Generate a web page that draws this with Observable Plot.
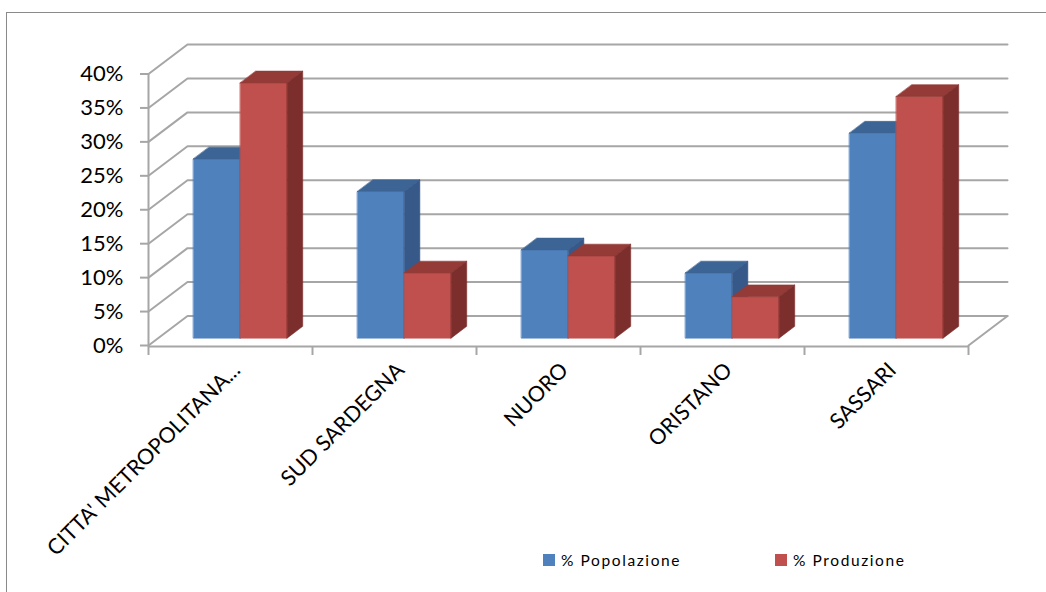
<!DOCTYPE html>
<html>
<head>
<meta charset="utf-8">
<script src="https://cdn.jsdelivr.net/npm/d3@7"></script>
<script src="https://cdn.jsdelivr.net/npm/@observablehq/plot@0.6"></script>
<style>
  html, body { margin: 0; padding: 0; background: #fff; }
  #wrap { position: relative; width: 1046px; height: 592px; overflow: hidden; font-family: Lato, "Open Sans", sans-serif; }
  #frame { position: absolute; left: 6px; top: 12px; width: 1100px; height: 640px; border: 1.5px solid #8a8a8a; box-sizing: border-box; pointer-events: none; }
  #chart { position: absolute; left: 0; top: 0; }
  #legend { position: absolute; top: 552px; left: 0; width: 1046px; height: 20px; font-size: 15.5px; letter-spacing: 1.6px; color: #000; }
  .item { position: absolute; top: 0; display: flex; align-items: center; height: 16px; }
  .sw { width: 12px; height: 12px; margin-right: 6px; }
</style>
</head>
<body>
<div id="wrap">
  <div id="chart"></div>
  <div id="frame"></div>
  <div id="legend"></div>
</div>
<script>
// ---- data ----
const categories = ["CITTA' METROPOLITANA...", "SUD SARDEGNA", "NUORO", "ORISTANO", "SASSARI"];
const popolazione = [26.4, 21.6, 13.0, 9.6, 30.2];
const produzione  = [37.6, 9.6, 12.1, 6.1, 35.6];
const seriesNames = ["% Popolazione", "% Produzione"];
const yTicks = [0, 5, 10, 15, 20, 25, 30, 35, 40];

// ---- styling ----
const frontColors = ["#4f81bd", "#c0504d"];
const topColors   = ["#3c6494", "#943a37"];
const sideColors  = ["#36598a", "#7b2e2c"];
const gridColor = "#a6a6a6";

// oblique depth, expressed in data units of the x (category) and y (%) scales
const KX = 39 / 164;
const KY = 29.5 / 6.79;
const GAP = 1.5;                       // gap width 150%
const BW = 1 / (2 + GAP);              // bar width in category units
const HG = GAP * BW / 2;               // half gap
const F0 = 0.25, F1 = 0.65;            // bar depth range (fraction of floor depth)

const values = [popolazione, produzione];

// build faces
const polys = [[], []];
categories.forEach((c, i) => {
  values.forEach((vals, s) => {
    const v = vals[i];
    const x1 = i + HG + s * BW + F0 * KX, x2 = x1 + BW;
    const ex = (F1 - F0) * KX, ey = (F1 - F0) * KY;
    const yb = F0 * KY, yt = v + F0 * KY;
    const id = c + s;
    const add = (face, color, pts) => pts.forEach(([x, y]) => polys[s].push({id: id + face, color, x, y}));
    add("f", frontColors[s], [[x1, yb], [x2, yb], [x2, yt], [x1, yt]]);
    add("t", topColors[s], [[x1, yt], [x2, yt], [x2 + ex, yt + ey], [x1 + ex, yt + ey]]);
    add("s", sideColors[s], [[x2, yb], [x2 + ex, yb + ey], [x2 + ex, yt + ey], [x2, yt]]);
  });
});

// grid: left-wall diagonals + back-wall horizontals
const n = categories.length;
const grid = [];
yTicks.forEach(v => {
  grid.push({v, x: 0, y: v}, {v, x: KX, y: v + KY}, {v, x: n + KX, y: v + KY});
});
const floorEdge = [{x: n, y: 0}, {x: n + KX, y: KY}];

const labelData = categories.map((c, i) => ({c, x: i + 0.5}));

const plot = Plot.plot({
  width: 1046,
  height: 592,
  marginLeft: 148,
  marginRight: 78,
  marginTop: 73.5,
  marginBottom: 247,
  x: {domain: [0, n], axis: null},
  y: {domain: [0, 40], axis: null},
  color: {type: "identity"},
  style: {fontFamily: "Lato, 'Open Sans', sans-serif", fontSize: "20px", background: "transparent", overflow: "visible"},
  marks: [
    Plot.line(grid, {x: "x", y: "y", z: "v", stroke: gridColor, strokeWidth: 2}),
    Plot.line(floorEdge, {x: "x", y: "y", stroke: gridColor, strokeWidth: 2}),
    Plot.ruleX([0], {y1: 0, y2: 40, stroke: gridColor, strokeWidth: 2}),
    Plot.ruleY([0], {x1: 0, x2: n, stroke: gridColor, strokeWidth: 2, dy: 1}),
    Plot.axisY({ticks: yTicks, tickFormat: d => d + "%", tickSize: 8, tickPadding: 17, stroke: gridColor, strokeWidth: 2, fill: "#000", fontSize: 22, label: null, style: {letterSpacing: "1.2px"}}),
    Plot.axisX({ticks: d3.range(n + 1), tickFormat: () => "", tickSize: 9, stroke: gridColor, strokeWidth: 2, label: null, dy: 1}),
    Plot.line(polys[0], {x: "x", y: "y", z: "id", fill: "color", stroke: "color", strokeWidth: 0.6, curve: "linear-closed"}),
    Plot.line(polys[1], {x: "x", y: "y", z: "id", fill: "color", stroke: "color", strokeWidth: 0.6, curve: "linear-closed"}),
    Plot.text(labelData, {x: "x", y: () => 0, text: "c", rotate: -45, textAnchor: "end", lineAnchor: "bottom", dx: 11, dy: 26, fill: "#000", fontSize: 21.5, style: {letterSpacing: "1.1px"}})
  ]
});
document.getElementById("chart").appendChild(plot);

// legend
const legend = document.getElementById("legend");
const legendX = [543, 775];
seriesNames.forEach((name, s) => {
  const it = document.createElement("div");
  it.className = "item";
  it.style.left = legendX[s] + "px";
  it.innerHTML = `<div class="sw" style="background:${frontColors[s]}"></div><span>${name}</span>`;
  legend.appendChild(it);
});
</script>
</body>
</html>
